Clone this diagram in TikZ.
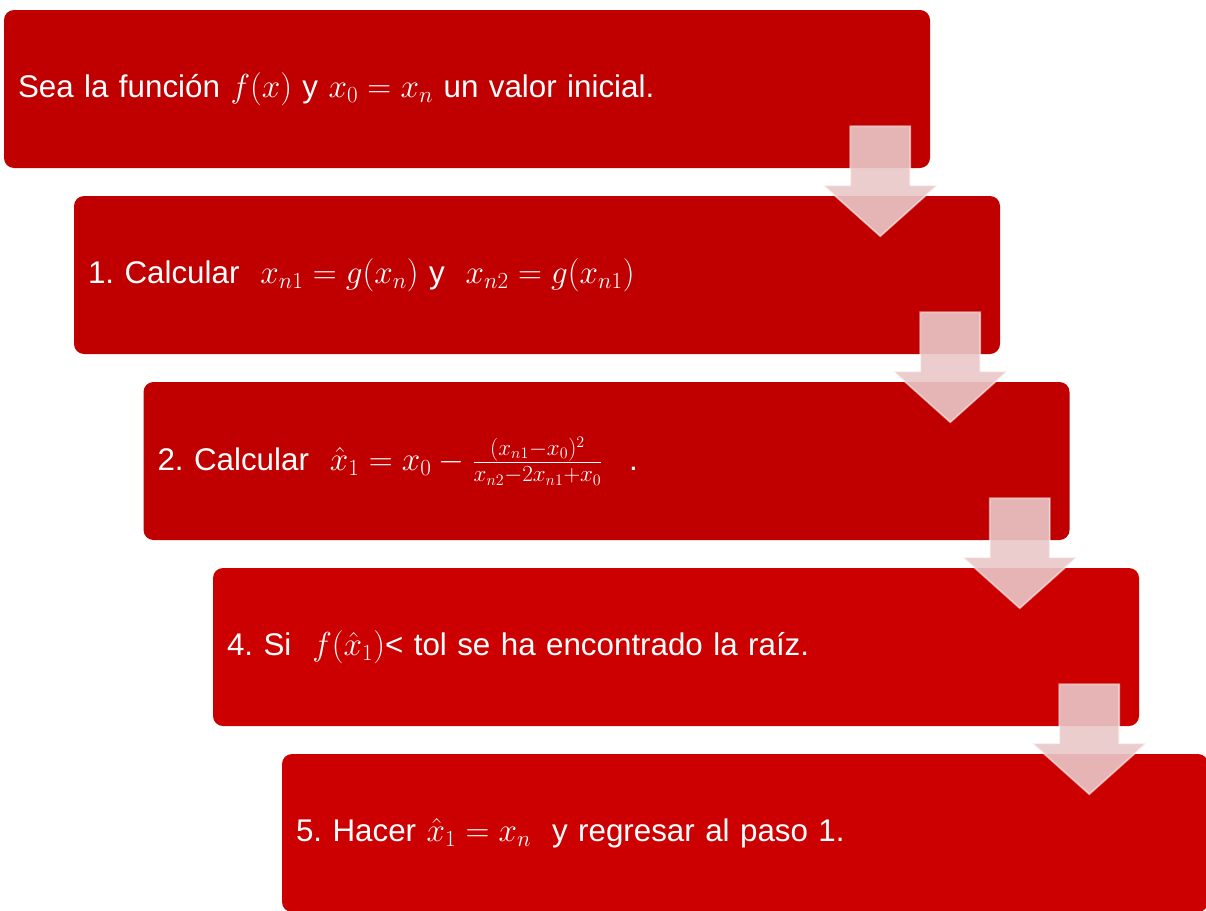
\documentclass[tikz,border=0pt]{standalone}
\usepackage{fontspec}
\setmainfont{Liberation Sans}
\usepackage{tikz}
\usetikzlibrary{calc,positioning}
\definecolor{stepred}{HTML}{C00000}
\definecolor{steplight}{HTML}{CC0000}
\definecolor{arrowpink}{HTML}{EAC8C9}
\frenchspacing

\begin{document}
\begin{tikzpicture}[x=0.75pt,y=-0.75pt,
every node/.style={font=\fontsize{23.5}{28}\selectfont},
stepbox/.style={fill=stepred,text=white,rounded corners=7.5pt,
minimum width=694.5pt,minimum height=118.5pt,inner xsep=10.5pt,inner ysep=0pt,
text width=673.5pt,align=left},
flowarrow/.style={fill=arrowpink,fill opacity=0.9,draw=white,draw opacity=0.55,
line width=1.2pt,line join=miter}
]
\clip (0,0) rectangle (1206,910);
\node[stepbox] (b1) at (467,89)   {Sea la función $f(x)$ y $x_0=x_n$ un valor inicial.};
\node[stepbox] (b2) at (537,275)  {1. Calcular \ $x_{n1}=g(x_n)$ y \ $x_{n2}=g(x_{n1})$};
\node[stepbox] (b3) at (606.5,461) {2. Calcular \ $\hat{x}_1=x_0-\frac{(x_{n1}-x_0)^2}{x_{n2}-2x_{n1}+x_0}$ \enspace.};
\node[stepbox,fill=steplight] (b4) at (676,647) {4. Si \ $f(\hat{x}_1)$< tol se ha encontrado la raíz.};
\node[stepbox,fill=steplight] (b5) at (745,833) {5. Hacer $\hat{x}_1=x_n$ \ y regresar al paso 1.};
% down arrows between the steps
\foreach \a in {b1,b2,b3,b4}
  \draw[flowarrow] ($(\a.south east)+(-80,-42)$) -- ++(60,0) -- ++(0,59) -- ++(27,0)
    -- ++(-57,51) -- ++(-57,-51) -- ++(27,0) -- cycle;
\end{tikzpicture}
\end{document}
